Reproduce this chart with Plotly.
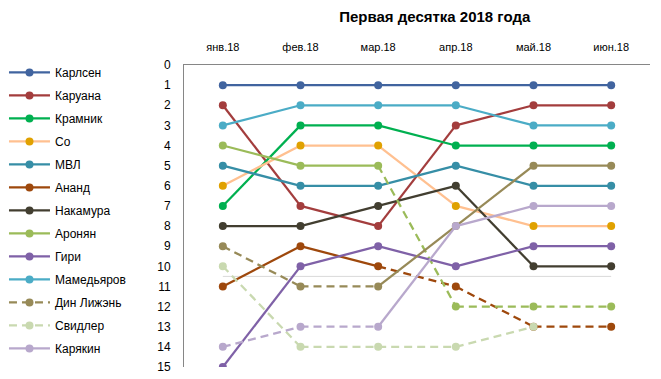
import plotly.graph_objects as go

months = ["янв.18", "фев.18", "мар.18", "апр.18", "май.18", "июн.18"]
players = ["Карлсен", "Каруана", "Крамник", "Со", "МВЛ", "Ананд", "Накамура",
           "Аронян", "Гири", "Мамедьяров", "Дин Лижэнь", "Свидлер", "Карякин"]
ranks = {
    "Карлсен":    [1, 1, 1, 1, 1, 1],
    "Каруана":    [2, 7, 8, 3, 2, 2],
    "Крамник":    [7, 3, 3, 4, 4, 4],
    "Со":         [6, 4, 4, 7, 8, 8],
    "МВЛ":        [5, 6, 6, 5, 6, 6],
    "Ананд":      [11, 9, 10, 11, 13, 13],
    "Накамура":   [8, 8, 7, 6, 10, 10],
    "Аронян":     [4, 5, 5, 12, 12, 12],
    "Гири":       [15, 10, 9, 10, 9, 9],
    "Мамедьяров": [3, 2, 2, 2, 3, 3],
    "Дин Лижэнь": [9, 11, 11, 8, 5, 5],
    "Свидлер":    [10, 14, 14, 14, 13, None],
    "Карякин":    [14, 13, 13, 8, 7, 7],
}
y_ticks = list(range(0, 16))
TOP_N = 10

line_colors = {
    "Карлсен": "#41649F", "Каруана": "#A33D3D", "Крамник": "#00B050",
    "Со": "#FFC090", "МВЛ": "#368EA6", "Ананд": "#9E480C",
    "Накамура": "#423E30", "Аронян": "#9BBB59", "Гири": "#7F61A7",
    "Мамедьяров": "#4BACC6", "Дин Лижэнь": "#978A58", "Свидлер": "#C9D9B0",
    "Карякин": "#B8A8CC",
}
marker_colors = dict(line_colors)
marker_colors["Со"] = "#E0A100"
legend_dashed = {"Дин Лижэнь", "Свидлер"}

DASH = "8px,5px"
fig = go.Figure()

for p in players:
    vals = ranks[p]
    col = line_colors[p]
    for k in range(len(months) - 1):
        a, b = vals[k], vals[k + 1]
        if a is None or b is None:
            continue
        dash = DASH if b > TOP_N else "solid"
        fig.add_trace(go.Scatter(
            x=[months[k], months[k + 1]], y=[a, b], mode="lines",
            line=dict(color=col, width=2.25, dash=dash),
            showlegend=False, legendgroup=p, hoverinfo="skip"))
    fig.add_trace(go.Scatter(
        x=months, y=vals, mode="markers",
        marker=dict(color=marker_colors[p], size=8),
        showlegend=False, legendgroup=p, name=p))
    fig.add_trace(go.Scatter(
        x=[None], y=[None], mode="lines+markers", name=p, legendgroup=p,
        line=dict(color=col, width=2.25, dash=DASH if p in legend_dashed else "solid"),
        marker=dict(color=marker_colors[p], size=8), showlegend=True))

fig.add_shape(type="line", xref="x", yref="y", x0=months[0], x1=months[-1],
              y0=TOP_N + 0.5, y1=TOP_N + 0.5,
              line=dict(color="#D9D9D9", width=1), layer="below")

# the page body adds an 8px offset; layout numbers below compensate for it
fig.update_layout(
    width=661, height=379,
    margin=dict(l=176, r=19, t=57, b=20, autoexpand=False),
    paper_bgcolor="white", plot_bgcolor="white",
    font=dict(family="Liberation Sans", size=11, color="#000000"),
    title=dict(text="<b>Первая десятка 2018 года</b>", x=0.538, xref="paper",
               xanchor="center", y=1 - 8.5 / 379, yref="container", yanchor="middle",
               font=dict(size=15, family="Liberation Sans", color="#000000")),
    legend=dict(xref="paper", yref="paper", x=-0.3863, y=1.0232,
                xanchor="left", yanchor="top", traceorder="grouped",
                tracegroupgap=4, itemwidth=41, font=dict(size=12),
                maxheight=379, bgcolor="rgba(0,0,0,0)"),
    showlegend=True,
)
fig.update_xaxes(type="category", categoryorder="array", categoryarray=months,
                 side="top", range=[-0.5, len(months) - 0.5],
                 showline=True, linecolor="#868686", linewidth=1,
                 showgrid=False, zeroline=False,
                 ticks="outside", ticklen=9, tickcolor="rgba(0,0,0,0)")
fig.update_yaxes(range=[15, 0], tickvals=y_ticks, showline=True,
                 linecolor="#868686", linewidth=1, showgrid=False, zeroline=False,
                 tickfont=dict(size=12),
                 ticks="outside", ticklen=10, tickcolor="rgba(0,0,0,0)")

fig.write_html("out.html")
